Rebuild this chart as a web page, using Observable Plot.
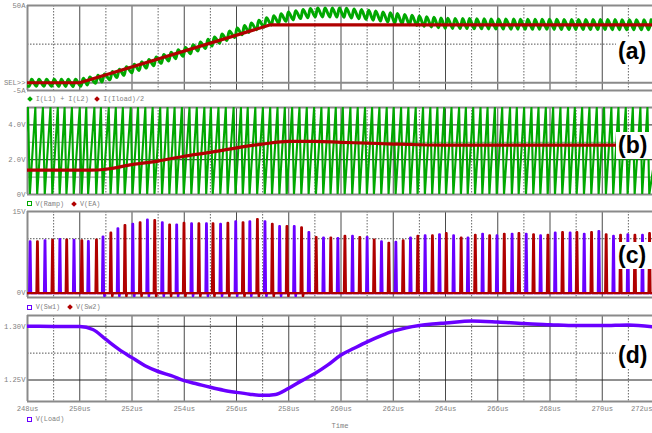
<!DOCTYPE html>
<html><head><meta charset="utf-8">
<script src="https://cdn.jsdelivr.net/npm/d3@7"></script>
<script src="https://cdn.jsdelivr.net/npm/@observablehq/plot@0.6"></script>
<style>
html,body{margin:0;padding:0;background:#fff;}
#root{position:relative;width:652px;height:433px;overflow:hidden;background:#fff;}
.legend{position:absolute;height:8px;font:6.8px "Liberation Mono",monospace;color:#7f7f7f;white-space:pre;line-height:8px;}
.mk{position:absolute;box-sizing:border-box;}
.tag{position:absolute;right:0;height:27px;width:36px;background:#fff;font:bold 23px "Liberation Sans",Arial,sans-serif;color:#000;line-height:27px;text-align:left;padding-left:2px;box-sizing:border-box;}
</style></head>
<body><div id="root"></div>
<script>
// ---------- data ----------
const timeTicks = [248,250,252,254,256,258,260,262,264,266,268,270,272];
const timeMinor = [249,251,253,255,257,259,261,263,265,267,269,271];

// (a) currents
const iloadTime = [248, 250, 257.3, 272];
const iloadHalf = [0, 0, 37.5, 37.5];
const ilSumTime = [248, 250, 251, 252, 253, 254, 255, 256, 257, 257.5, 258, 258.5, 259, 260, 261, 262, 263, 264, 266, 268, 272];
const ilSumMean = [0, 0, 3.5, 9, 14.5, 20, 26, 32.5, 38.5, 41, 43, 44.5, 45.5, 45.5, 44, 42, 40, 38.5, 38, 37.8, 37.5];
const ilRippleTime = [248, 254, 258, 264, 272];
const ilRipplePP = [4.5, 5.2, 5.6, 6.5, 6.5];

// (b) ramp and error amp
const rampLow = 0, rampHigh = 5, rampLead = 0.08, rampFall = 0.07;
const eaTime = [248, 250.4, 251, 252, 253, 254, 255, 256, 257, 258, 259, 260, 261, 262, 263, 264, 272];
const eaVolt = [1.40, 1.40, 1.45, 1.72, 1.92, 2.20, 2.42, 2.68, 2.90, 3.05, 3.05, 3.00, 2.95, 2.90, 2.86, 2.84, 2.84];

// (c) switch nodes: pulse times (us) and peak voltages
const sw1Time = [248.10,248.67,249.24,249.78,250.33,250.89,251.46,252.03,252.59,253.16,253.71,254.28,254.85,255.39,255.97,256.51,257.09,257.65,258.21,258.77,259.33,259.88,260.44,261.00,261.55,262.10,262.66,263.22,263.77,264.31,264.86,265.42,265.97,266.55,267.09,267.64,268.20,268.77,269.31,269.87,270.43,270.98,271.54];
const sw1Peak = [9.5,9.7,9.9,9.8,9.55,10.4,11.9,12.7,13.5,13.0,12.6,12.8,12.8,12.7,13.2,13.2,13.2,12.3,12.3,11.2,10.2,10.1,10.5,10.3,9.5,9.4,10.2,10.6,10.8,10.6,10.2,10.9,10.6,10.9,10.9,10.6,11.1,11.1,10.9,11.4,10.5,10.8,10.7];
const sw2Time = [248.38,248.96,249.50,250.08,250.64,251.19,251.73,252.31,252.87,253.44,253.99,254.56,255.10,255.67,256.25,256.80,257.37,257.93,258.49,259.05,259.61,260.15,260.72,261.27,261.83,262.38,262.94,263.50,264.03,264.60,265.14,265.69,266.25,266.81,267.37,267.92,268.48,269.03,269.59,270.15,270.70,271.25,271.81];
const sw2Peak = [9.5,9.8,9.85,9.67,9.85,11.1,12.5,13.0,13.4,12.6,12.9,12.8,12.8,12.9,13.0,13.6,12.7,12.3,12.1,10.3,10.2,10.5,10.3,9.85,9.25,9.67,10.5,10.6,11.0,10.2,10.7,10.6,10.9,11.0,10.8,10.7,11.2,11.2,11.2,10.8,10.7,10.7,11.0];
const dipWindow = [250.8, 258.6], dipDepth = -0.6;

// (d) load voltage
const vloadTime = [248,249,250,250.5,251,251.5,252,252.5,253,253.5,254,254.5,255,255.5,256,256.5,257,257.5,258,258.5,259,259.5,260,260.5,261,261.5,262,262.5,263,263.5,264,265,266,267,268,269,270,271,272];
const vload = [1.3000,1.2998,1.2997,1.2970,1.2877,1.2785,1.2708,1.2632,1.2579,1.2540,1.2494,1.2463,1.2432,1.2405,1.2385,1.2368,1.2357,1.2365,1.2423,1.2494,1.2561,1.2641,1.2733,1.2795,1.2855,1.2908,1.2954,1.2985,1.3006,1.3020,1.3030,1.3050,1.3040,1.3025,1.3015,1.3006,1.3006,1.3012,1.2993];

// ---------- colours ----------
const GREEN = "#00a800", RED = "#b00000", BLUE = "#6a00ff";

// ---------- build tables ----------
const zip = (t, v) => t.map((x, i) => ({t: x, v: v[i]}));
const allPulses = [...sw1Time, ...sw2Time].sort((a, b) => a - b);

const meanAt = d3.scaleLinear(ilSumTime, ilSumMean);
const ppAt = d3.scaleLinear(ilRippleTime, ilRipplePP);
const ilSum = [];
allPulses.forEach(p => {
  ilSum.push({t: p - 0.04, v: meanAt(p - 0.04) - ppAt(p) / 2});
  ilSum.push({t: p + 0.06, v: meanAt(p + 0.06) + ppAt(p) / 2});
});
ilSum.unshift({t: 247.8, v: 0});

const ramp = [{t: 247.75, v: rampLow}];
allPulses.forEach(p => {
  ramp.push({t: p - rampLead, v: rampHigh});
  ramp.push({t: p - rampLead + rampFall, v: rampLow});
});
ramp.push({t: 272.3, v: rampHigh});

function pulses(times, peaks) {
  const pts = [{t: 247.9, v: 0}];
  times.forEach((t, i) => {
    const h = peaks[i];
    pts.push({t: t - 0.036, v: 0}, {t: t - 0.01, v: h}, {t: t + 0.01, v: h}, {t: t + 0.036, v: 0});
    if (t > dipWindow[0] && t < dipWindow[1]) pts.push({t: t + 0.055, v: dipDepth}, {t: t + 0.08, v: 0});
  });
  pts.push({t: 272.2, v: 0});
  return pts;
}

// ---------- layout ----------
const root = document.getElementById("root");
const X0 = 27, X1 = 654, W = 652;

function grid() {
  return [
    Plot.ruleX(timeMinor, {stroke: "#666", strokeWidth: 1, strokeDasharray: "1.5,1.5"}),
    Plot.ruleX(timeTicks, {stroke: "#4a4a4a", strokeWidth: 1}),
  ];
}
function borders(yDomain) {
  return [
    Plot.ruleY(yDomain, {stroke: "#8a8a8a", strokeWidth: 2}),
    Plot.ruleX([248], {stroke: "#8a8a8a", strokeWidth: 2})
  ];
}

function panel({top, height, mt, mb, yDomain, yTicks, yFormat, marks}) {
  const p = Plot.plot({
    width: W, height, marginTop: mt, marginBottom: mb, marginLeft: X0, marginRight: 0,
    x: {domain: [248, 272], range: [X0, X1], axis: null},
    y: {domain: yDomain, axis: "left", ticks: yTicks, tickFormat: yFormat, tickSize: 0, tickPadding: 2, label: null},
    style: {fontFamily: '"Liberation Mono", monospace', fontSize: "7.2px", color: "#7f7f7f", background: "transparent"},
    marks
  });
  p.style.position = "absolute"; p.style.top = top + "px"; p.style.left = "0px";
  root.appendChild(p);
}

// (a)
panel({top: 0, height: 95, mt: 5, mb: 5, yDomain: [-5, 50], yTicks: [50, 0, -5],
  yFormat: d => d === 0 ? "SEL>>" : d + "A",
  marks: [
    ...grid(),
    Plot.ruleY([25], {stroke: "#555", strokeDasharray: "1.5,1.5"}),
    Plot.ruleY([0], {stroke: "#8a8a8a", strokeWidth: 2}),
    ...borders([-5, 50]),
    Plot.line(ilSum, {x: "t", y: "v", stroke: GREEN, strokeWidth: 3, curve: "catmull-rom", clip: true}),
    Plot.line(zip(iloadTime, iloadHalf), {x: "t", y: "v", stroke: RED, strokeWidth: 3.2, clip: true})
  ]});

// (b)
panel({top: 100, height: 100, mt: 7, mb: 6, yDomain: [0, 5], yTicks: [0, 2, 4],
  yFormat: d => d === 0 ? "0V" : d.toFixed(1) + "V",
  marks: [
    ...grid(),
    Plot.ruleY([1, 3], {stroke: "#8a8a8a"}),
    Plot.ruleY([2, 4], {stroke: "#222"}),
    ...borders([0, 5]),
    Plot.line(ramp, {x: "t", y: "v", stroke: GREEN, strokeWidth: 2.1, clip: true}),
    Plot.line(zip(eaTime, eaVolt), {x: "t", y: "v", stroke: RED, strokeWidth: 3.2, curve: "monotone-x", clip: true})
  ]});

// (c)
panel({top: 205, height: 97, mt: 6, mb: 5, yDomain: [-0.8, 15], yTicks: [0, 15],
  yFormat: d => d + "V",
  marks: [
    ...grid(),
    Plot.ruleY([10], {stroke: "#555", strokeDasharray: "1.5,1.5"}),
    ...borders([-0.8, 15]),
    Plot.line(pulses(sw1Time, sw1Peak), {x: "t", y: "v", stroke: BLUE, strokeWidth: 2.3, strokeLinejoin: "round", clip: true}),
    Plot.line(pulses(sw2Time, sw2Peak), {x: "t", y: "v", stroke: RED, strokeWidth: 2.3, strokeLinejoin: "round", clip: true})
  ]});

// (d)
const tickMain = timeTicks.filter(d => d < 272), tickLast = timeTicks.filter(d => d === 272);
panel({top: 310, height: 123, mt: 5, mb: 32, yDomain: [1.23, 1.31], yTicks: [1.25, 1.30],
  yFormat: d => d.toFixed(2) + "V",
  marks: [
    ...grid(),
    Plot.ruleY([1.275], {stroke: "#555", strokeDasharray: "1.5,1.5"}),
    Plot.ruleY([1.25, 1.30], {stroke: "#222"}),
    ...borders([1.23, 1.31]),
    Plot.line(zip(vloadTime, vload), {x: "t", y: "v", stroke: BLUE, strokeWidth: 3.5, curve: "monotone-x", clip: true}),
    Plot.text(tickMain, {x: d => d, frameAnchor: "bottom", dy: 9, text: d => d + "us", fill: "#7f7f7f"}),
    Plot.text(tickLast, {x: d => d, frameAnchor: "bottom", dy: 9, dx: -2, textAnchor: "end", text: d => d + "us", fill: "#7f7f7f"}),
    Plot.text(["Time"], {frameAnchor: "bottom", dy: 26, fill: "#7f7f7f"})
  ]});

// ---------- legends ----------
function marker(x, y, type, color) {
  const m = document.createElement("div");
  m.className = "mk";
  if (type === "square") {
    Object.assign(m.style, {left: (x - 2.5) + "px", top: (y - 2.5) + "px", width: "5px", height: "5px", border: "1.5px solid " + color});
  } else {
    Object.assign(m.style, {left: (x - 2) + "px", top: (y - 2) + "px", width: "4px", height: "4px", background: color, transform: "rotate(45deg)"});
  }
  root.appendChild(m);
}
function legend(y, items) {
  items.forEach(it => {
    marker(it.x, y, it.type, it.color);
    const d = document.createElement("div");
    d.className = "legend";
    d.style.left = (it.x + 6) + "px"; d.style.top = (y - 4) + "px";
    d.textContent = it.text;
    root.appendChild(d);
  });
}
legend(99, [{x: 29.7, type: "diamond", color: GREEN, text: "I(L1) + I(L2)"}, {x: 97.3, type: "diamond", color: RED, text: "I(Iload)/2"}]);
legend(203.5, [{x: 29.5, type: "square", color: GREEN, text: "V(Ramp)"}, {x: 74, type: "diamond", color: RED, text: "V(EA)"}]);
legend(307, [{x: 29.7, type: "square", color: BLUE, text: "V(Sw1)"}, {x: 70, type: "diamond", color: RED, text: "V(Sw2)"}]);
legend(419, [{x: 29.7, type: "square", color: BLUE, text: "V(Load)"}]);

// ---------- panel tags ----------
[["(a)", 51], ["(b)", 145.5], ["(c)", 255], ["(d)", 355]].forEach(([s, cy]) => {
  const d = document.createElement("div");
  d.className = "tag"; d.textContent = s; d.style.top = (cy - 13.5) + "px";
  root.appendChild(d);
});
</script></body></html>
